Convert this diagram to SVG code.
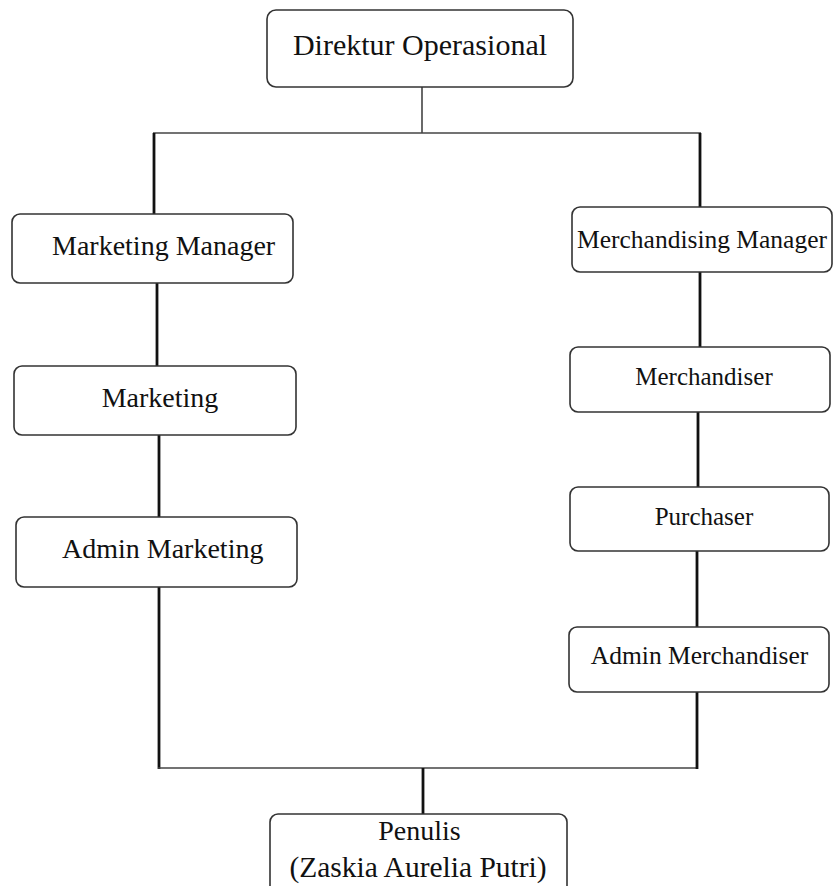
<svg xmlns="http://www.w3.org/2000/svg" width="835" height="886" viewBox="0 0 835 886">
<style>
.box{fill:#fff;stroke:#333;stroke-width:1.6}
.t{font-family:"Liberation Serif","Times New Roman",serif;fill:#111}
.thin{stroke:#444;stroke-width:1.6;fill:none}
.thick{stroke:#111;stroke-width:2.8;fill:none}
</style>
<rect width="835" height="886" fill="#fff"/>
<g id="connectors">
<line class="thin" x1="422" y1="87" x2="422" y2="133"/>
<line class="thin" x1="153" y1="133" x2="701" y2="133"/>
<line class="thick" x1="154" y1="133" x2="154" y2="214"/>
<line class="thick" x1="157" y1="283" x2="157" y2="366"/>
<line class="thick" x1="159" y1="435" x2="159" y2="517"/>
<line class="thick" x1="159" y1="587" x2="159" y2="769"/>
<line class="thin" x1="158" y1="768" x2="698" y2="768"/>
<line class="thick" x1="423" y1="768" x2="423" y2="814"/>
<line class="thick" x1="700" y1="133" x2="700" y2="207"/>
<line class="thick" x1="700" y1="272" x2="700" y2="347"/>
<line class="thick" x1="698" y1="412" x2="698" y2="487"/>
<line class="thick" x1="697" y1="551" x2="697" y2="627"/>
<line class="thick" x1="697" y1="692" x2="697" y2="769"/>
</g>
<g id="direktur">
<rect class="box" x="267" y="10" width="306" height="77" rx="9"/>
<text class="t" x="420" y="55" font-size="30" text-anchor="middle">Direktur Operasional</text>
</g>
<g id="marketing-manager">
<rect class="box" x="12" y="214" width="281" height="69" rx="8"/>
<text class="t" x="52" y="255" font-size="28">Marketing Manager</text>
</g>
<g id="marketing">
<rect class="box" x="14" y="366" width="282" height="69" rx="8"/>
<text class="t" x="160" y="407" font-size="28" text-anchor="middle">Marketing</text>
</g>
<g id="admin-marketing">
<rect class="box" x="16" y="517" width="281" height="70" rx="8"/>
<text class="t" x="62" y="558" font-size="28">Admin Marketing</text>
</g>
<g id="merchandising-manager">
<rect class="box" x="572" y="207" width="260" height="65" rx="8"/>
<text class="t" x="702" y="248" font-size="25.5" text-anchor="middle">Merchandising Manager</text>
</g>
<g id="merchandiser">
<rect class="box" x="570" y="347" width="260" height="65" rx="8"/>
<text class="t" x="704" y="385" font-size="25" text-anchor="middle">Merchandiser</text>
</g>
<g id="purchaser">
<rect class="box" x="570" y="487" width="259" height="64" rx="8"/>
<text class="t" x="704" y="525" font-size="25" text-anchor="middle">Purchaser</text>
</g>
<g id="admin-merchandiser">
<rect class="box" x="569" y="627" width="260" height="65" rx="8"/>
<text class="t" x="699.5" y="664" font-size="25.5" text-anchor="middle">Admin Merchandiser</text>
</g>
<g id="penulis">
<rect class="box" x="270" y="814" width="297" height="80" rx="8"/>
<text class="t" x="419.5" y="840" font-size="28" text-anchor="middle">Penulis</text>
<text class="t" x="418" y="877" font-size="29.5" text-anchor="middle">(Zaskia Aurelia Putri)</text>
</g>
</svg>
